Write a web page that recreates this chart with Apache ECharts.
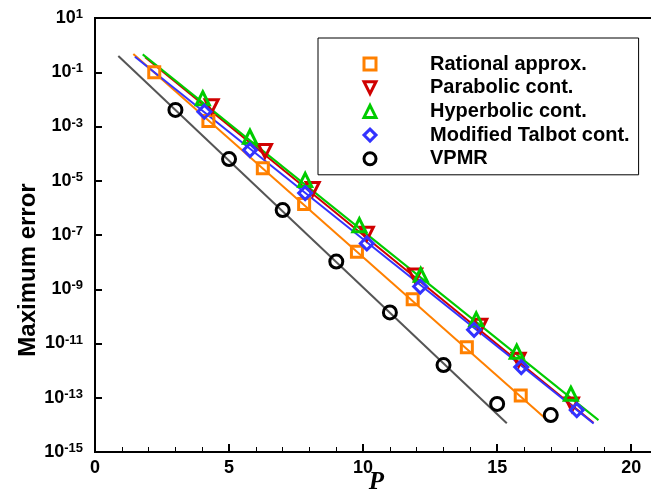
<!DOCTYPE html>
<html><head><meta charset="utf-8">
<script src="https://cdn.jsdelivr.net/npm/echarts@6/dist/echarts.min.js"></script>
<style>html,body{margin:0;padding:0;background:#fff}#c{width:651px;height:492px}</style>
</head><body><div id="c"></div>
<script>
// ---- data ----
const seriesNames = ['Rational approx.', 'Parabolic cont.', 'Hyperbolic cont.', 'Modified Talbot cont.', 'VPMR'];

const P_rational = [2.21, 4.23, 6.26, 7.8, 9.77, 11.85, 13.87, 15.88];
const E_rational = [1.0e-1, 1.6e-3, 2.9e-5, 1.4e-6, 2.4e-8, 4.3e-10, 7.2e-12, 1.2e-13];

const P_parabolic = [4.35, 6.34, 8.12, 10.14, 11.94, 14.37, 15.8, 17.79];
const E_parabolic = [5.6e-3, 1.26e-4, 5.0e-6, 1.12e-7, 3.2e-9, 4.5e-11, 2.5e-12, 5.6e-14];

const P_hyperbolic = [4.02, 5.78, 7.84, 9.86, 12.15, 14.22, 15.73, 17.75];
const E_hyperbolic = [1.1e-2, 4.2e-4, 1.07e-5, 2.3e-7, 3.4e-9, 7.8e-11, 5.0e-12, 1.4e-13];

const P_talbot = [4.08, 5.78, 7.84, 10.14, 12.13, 14.14, 15.9, 17.97];
const E_talbot = [3.5e-3, 1.35e-4, 3.5e-6, 4.9e-8, 1.26e-9, 3.2e-11, 1.35e-12, 3.5e-14];

const P_vpmr = [3, 5, 7, 9, 11, 13, 15, 17];
const E_vpmr = [4.1e-3, 6.3e-5, 8.3e-7, 1.05e-8, 1.4e-10, 1.6e-12, 5.9e-14, 2.3e-14];

// fitted lines (end points)
const fit_rational   = [[1.43, 0.47], [16.79, 1.74e-14]];
const fit_parabolic  = [[1.87, 0.355], [18.59, 1.2e-14]];
const fit_hyperbolic = [[1.78, 0.457], [18.78, 1.5e-14]];
const fit_talbot     = [[1.49, 0.37], [18.6, 1.12e-14]];
const fit_vpmr       = [[0.87, 0.40], [15.36, 1.15e-14]];

const xTickLabels = [0, 5, 10, 15, 20];

// ---- styles ----
const colors = ['#FF8000', '#D00000', '#00CC00', '#3333FF', '#000000'];
const lineColors = ['#FF8000', '#D00000', '#00CC00', '#3333FF', '#555555'];
const symbols = ['rect', 'triangle', 'triangle', 'diamond', 'circle'];
const rotates = [0, 180, 0, 0, 0];
const sizes = [11, 13, 13, 13, 13];

const pts = [
  [P_rational, E_rational], [P_parabolic, E_parabolic], [P_hyperbolic, E_hyperbolic],
  [P_talbot, E_talbot], [P_vpmr, E_vpmr]
];
const fits = [fit_rational, fit_parabolic, fit_hyperbolic, fit_talbot, fit_vpmr];

const series = [];
fits.forEach((f, i) => {
  series.push({
    name: 'fit ' + i, type: 'line', data: f, showSymbol: false, silent: true,
    lineStyle: { color: lineColors[i], width: 2 }, z: 2, animation: false
  });
});
pts.forEach((p, i) => {
  series.push({
    name: seriesNames[i], type: 'line',
    data: p[0].map((x, k) => [x, p[1][k]]),
    symbol: symbols[i], symbolSize: sizes[i], symbolRotate: rotates[i], showSymbol: true,
    lineStyle: { width: 0, opacity: 0 },
    itemStyle: { color: 'rgba(255,255,255,0)', borderColor: colors[i], borderWidth: 3 },
    z: 3, animation: false
  });
});

const chart = echarts.init(document.getElementById('c'));
chart.setOption({
  animation: false,
  backgroundColor: '#fff',
  grid: { left: 95, top: 18, width: 563, height: 434, show: true, borderColor: '#000', borderWidth: 2,
          backgroundColor: 'transparent', containLabel: false, outerBoundsMode: 'none' },
  legend: {
    data: seriesNames, orient: 'vertical', left: 318, top: 38,
    itemWidth: 104, itemHeight: 15, itemGap: 3.7,
    padding: [16, 9, 6, 0],
    borderColor: '#000', borderWidth: 1, borderRadius: 0,
    itemStyle: { borderWidth: 3 },
    textStyle: { fontFamily: 'Liberation Sans, Arial', fontWeight: 'bold', fontSize: 20, color: '#000', lineHeight: 20, padding: [0, 0, 0, 3] }
  },
  xAxis: {
    type: 'value', min: 0, max: 21, interval: 5,
    name: 'P', nameLocation: 'middle', nameGap: 18, nameMoveOverlap: false,
    nameTextStyle: { fontFamily: 'Liberation Serif, Times New Roman', fontStyle: 'italic', fontWeight: 'bold', fontSize: 25, color: '#000' },
    axisLine: { lineStyle: { color: '#000', width: 2 } },
    axisTick: { inside: true, length: 8, lineStyle: { color: '#000', width: 2 } },
    minorTick: { show: true, splitNumber: 5, length: 5, lineStyle: { color: '#000', width: 1 } },
    splitLine: { show: false },
    axisLabel: {
      margin: 7, color: '#000', fontFamily: 'Liberation Sans, Arial', fontWeight: 'bold', fontSize: 18,
      formatter: v => (xTickLabels.indexOf(v) >= 0 ? String(v) : '')
    }
  },
  yAxis: {
    type: 'log', logBase: 10, min: 1e-15, max: 10, interval: 2,
    name: 'Maximum error', nameLocation: 'middle', nameGap: 55, nameRotate: 90, nameMoveOverlap: false,
    nameTextStyle: { fontFamily: 'Liberation Sans, Arial', fontWeight: 'bold', fontSize: 24, color: '#000', padding: [0, 70, 0, 0] },
    axisLine: { lineStyle: { color: '#000', width: 2 } },
    axisTick: { inside: true, length: 7, lineStyle: { color: '#000', width: 2 } },
    splitLine: { show: false },
    axisLabel: {
      margin: 12, color: '#000',
      formatter: v => '{b|10}{e|' + Math.round(Math.log10(v)) + '}',
      rich: {
        b: { fontFamily: 'Liberation Sans, Arial', fontWeight: 'bold', fontSize: 18, color: '#000' },
        e: { fontFamily: 'Liberation Sans, Arial', fontWeight: 'bold', fontSize: 13, color: '#000', padding: [0, 0, 7, 0] }
      }
    }
  },
  series: series
});
</script></body></html>
